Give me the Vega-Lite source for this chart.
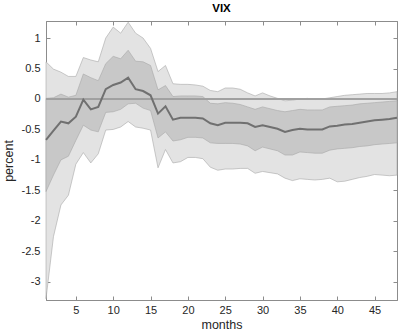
{
  "$schema": "https://vega.github.io/schema/vega-lite/v6.json",
  "autosize": "none",
  "width": 351,
  "height": 279,
  "padding": {"left": 46, "top": 21, "right": 1, "bottom": 31},
  "background": "white",
  "config": {
    "view": {"stroke": "#8c8c8c", "strokeWidth": 1},
    "font": "Liberation Sans",
    "axis": {"grid": false, "domainColor": "#8c8c8c", "tickColor": "#8c8c8c", "labelColor": "#262626", "labelFont": "Liberation Sans", "labelFontSize": 11, "titleFont": "Liberation Sans", "titleFontWeight": "normal", "titleColor": "#262626"}
  },
  "title": {"text": "VIX", "fontSize": 11.5, "fontWeight": "bold", "font": "Liberation Sans", "color": "#000000", "offset": 6},
  "data": {"values": [
    {"m": 1, "ou": 0.61, "iu": 0.01, "med": -0.67, "il": -1.52, "ol": -3.28},
    {"m": 2, "ou": 0.49, "iu": 0.02, "med": -0.52, "il": -1.25, "ol": -2.26},
    {"m": 3, "ou": 0.44, "iu": 0.08, "med": -0.37, "il": -1.0, "ol": -1.74},
    {"m": 4, "ou": 0.37, "iu": 0.03, "med": -0.4, "il": -0.94, "ol": -1.58},
    {"m": 5, "ou": 0.37, "iu": 0.06, "med": -0.29, "il": -0.68, "ol": -1.07},
    {"m": 6, "ou": 0.68, "iu": 0.41, "med": -0.01, "il": -0.43, "ol": -0.88},
    {"m": 7, "ou": 0.64, "iu": 0.35, "med": -0.17, "il": -0.51, "ol": -1.05},
    {"m": 8, "ou": 0.61, "iu": 0.3, "med": -0.13, "il": -0.54, "ol": -0.9},
    {"m": 9, "ou": 1.0, "iu": 0.58, "med": 0.16, "il": -0.22, "ol": -0.51},
    {"m": 10, "ou": 1.18, "iu": 0.7, "med": 0.23, "il": -0.21, "ol": -0.5},
    {"m": 11, "ou": 1.08, "iu": 0.66, "med": 0.27, "il": -0.17, "ol": -0.46},
    {"m": 12, "ou": 1.26, "iu": 0.8, "med": 0.35, "il": -0.08, "ol": -0.37},
    {"m": 13, "ou": 1.08, "iu": 0.62, "med": 0.16, "il": -0.07, "ol": -0.46},
    {"m": 14, "ou": 1.0, "iu": 0.61, "med": 0.13, "il": -0.15, "ol": -0.48},
    {"m": 15, "ou": 0.83, "iu": 0.55, "med": 0.06, "il": -0.19, "ol": -0.51},
    {"m": 16, "ou": 0.45, "iu": 0.15, "med": -0.24, "il": -0.64, "ol": -1.13},
    {"m": 17, "ou": 0.55, "iu": 0.22, "med": -0.12, "il": -0.54, "ol": -0.83},
    {"m": 18, "ou": 0.25, "iu": 0.04, "med": -0.34, "il": -0.69, "ol": -1.05},
    {"m": 19, "ou": 0.24, "iu": 0.05, "med": -0.31, "il": -0.67, "ol": -1.03},
    {"m": 20, "ou": 0.24, "iu": 0.05, "med": -0.31, "il": -0.63, "ol": -0.96},
    {"m": 21, "ou": 0.23, "iu": 0.05, "med": -0.31, "il": -0.63, "ol": -0.96},
    {"m": 22, "ou": 0.21, "iu": 0.04, "med": -0.32, "il": -0.64, "ol": -0.98},
    {"m": 23, "ou": 0.14, "iu": -0.07, "med": -0.4, "il": -0.72, "ol": -1.12},
    {"m": 24, "ou": 0.12, "iu": -0.08, "med": -0.43, "il": -0.73, "ol": -1.17},
    {"m": 25, "ou": 0.18, "iu": -0.06, "med": -0.39, "il": -0.73, "ol": -1.15},
    {"m": 26, "ou": 0.18, "iu": -0.07, "med": -0.39, "il": -0.73, "ol": -1.15},
    {"m": 27, "ou": 0.16, "iu": -0.09, "med": -0.39, "il": -0.74, "ol": -1.14},
    {"m": 28, "ou": 0.1, "iu": -0.13, "med": -0.4, "il": -0.77, "ol": -1.14},
    {"m": 29, "ou": 0.05, "iu": -0.17, "med": -0.46, "il": -0.85, "ol": -1.22},
    {"m": 30, "ou": 0.1, "iu": -0.13, "med": -0.43, "il": -0.79, "ol": -1.19},
    {"m": 31, "ou": 0.05, "iu": -0.16, "med": -0.46, "il": -0.82, "ol": -1.21},
    {"m": 32, "ou": 0.01, "iu": -0.19, "med": -0.49, "il": -0.85, "ol": -1.23},
    {"m": 33, "ou": -0.03, "iu": -0.21, "med": -0.54, "il": -0.92, "ol": -1.3},
    {"m": 34, "ou": -0.02, "iu": -0.19, "med": -0.51, "il": -0.92, "ol": -1.34},
    {"m": 35, "ou": 0.0, "iu": -0.17, "med": -0.49, "il": -0.87, "ol": -1.31},
    {"m": 36, "ou": 0.01, "iu": -0.18, "med": -0.5, "il": -0.88, "ol": -1.32},
    {"m": 37, "ou": -0.01, "iu": -0.18, "med": -0.5, "il": -0.89, "ol": -1.33},
    {"m": 38, "ou": 0.0, "iu": -0.18, "med": -0.5, "il": -0.89, "ol": -1.32},
    {"m": 39, "ou": 0.02, "iu": -0.13, "med": -0.45, "il": -0.84, "ol": -1.3},
    {"m": 40, "ou": 0.04, "iu": -0.12, "med": -0.44, "il": -0.82, "ol": -1.36},
    {"m": 41, "ou": 0.06, "iu": -0.11, "med": -0.42, "il": -0.81, "ol": -1.35},
    {"m": 42, "ou": 0.07, "iu": -0.1, "med": -0.41, "il": -0.8, "ol": -1.32},
    {"m": 43, "ou": 0.08, "iu": -0.08, "med": -0.39, "il": -0.78, "ol": -1.29},
    {"m": 44, "ou": 0.09, "iu": -0.07, "med": -0.37, "il": -0.77, "ol": -1.27},
    {"m": 45, "ou": 0.09, "iu": -0.06, "med": -0.35, "il": -0.75, "ol": -1.24},
    {"m": 46, "ou": 0.09, "iu": -0.05, "med": -0.34, "il": -0.74, "ol": -1.25},
    {"m": 47, "ou": 0.1, "iu": -0.04, "med": -0.33, "il": -0.73, "ol": -1.26},
    {"m": 48, "ou": 0.12, "iu": -0.03, "med": -0.31, "il": -0.72, "ol": -1.25}
  ]},
  "resolve": {"axis": {"x": "independent", "y": "independent"}},
  "layer": [
    {
      "mark": {"type": "area", "color": "#e3e3e3", "stroke": "#a8a8a8", "strokeWidth": 0.6, "opacity": 1},
      "encoding": {
        "x": {"field": "m", "type": "quantitative", "scale": {"domain": [1, 48], "nice": false, "zero": false},
          "axis": {"orient": "bottom", "title": "months", "titleFontSize": 12.5, "titlePadding": 3, "values": [5, 10, 15, 20, 25, 30, 35, 40, 45], "tickSize": -4, "labelPadding": 8, "domain": true}},
        "y": {"field": "ol", "type": "quantitative", "scale": {"domain": [-3.3, 1.28], "nice": false, "zero": false},
          "axis": {"orient": "left", "title": "percent", "titleFontSize": 12.5, "titlePadding": 6, "values": [-3, -2.5, -2, -1.5, -1, -0.5, 0, 0.5, 1], "labelExpr": "'' + datum.value", "tickSize": -4, "labelPadding": 10}},
        "y2": {"field": "ou"}
      }
    },
    {
      "mark": {"type": "area", "color": "#c8c8c8", "stroke": "#a8a8a8", "strokeWidth": 0.6, "opacity": 1},
      "encoding": {
        "x": {"field": "m", "type": "quantitative", "axis": {"orient": "top", "title": null, "labels": false, "values": [5, 10, 15, 20, 25, 30, 35, 40, 45], "tickSize": -4}},
        "y": {"field": "il", "type": "quantitative", "axis": {"orient": "right", "title": null, "labels": false, "values": [-3, -2.5, -2, -1.5, -1, -0.5, 0, 0.5, 1], "tickSize": -4}},
        "y2": {"field": "iu"}
      }
    },
    {
      "mark": {"type": "rule", "color": "#a0a0a0", "strokeWidth": 1},
      "encoding": {"y": {"datum": 0, "type": "quantitative", "axis": null}}
    },
    {
      "mark": {"type": "line", "color": "#707070", "strokeWidth": 2},
      "encoding": {
        "x": {"field": "m", "type": "quantitative", "axis": null},
        "y": {"field": "med", "type": "quantitative", "axis": null}
      }
    }
  ]
}
